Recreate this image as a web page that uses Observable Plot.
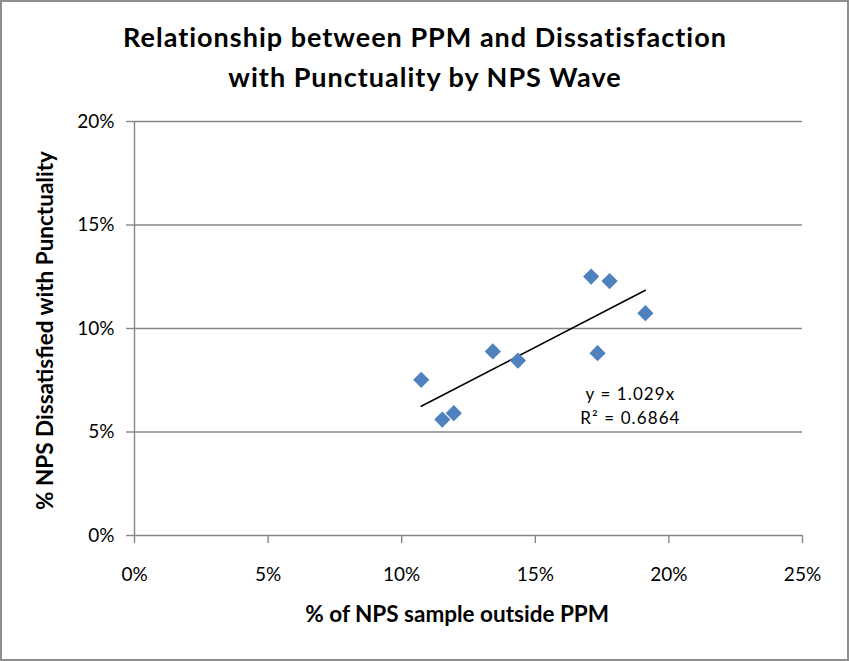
<!DOCTYPE html>
<html>
<head>
<meta charset="utf-8">
<script src="https://cdn.jsdelivr.net/npm/d3@7"></script>
<script src="https://cdn.jsdelivr.net/npm/@observablehq/plot@0.6"></script>
<style>
  html, body { margin: 0; padding: 0; background: #fff; }
  #wrap { position: relative; width: 849px; height: 661px; overflow: hidden; }
  #frame { position: absolute; left: 0; top: 0; width: 849px; height: 661px; box-sizing: border-box; border: 2px solid #8e8e8e; pointer-events: none; }
</style>
</head>
<body>
<div id="wrap"><div id="frame"></div></div>
<script>
// ---- data ----
const ppmOutside   = [0.1073, 0.1152, 0.1195, 0.1341, 0.1435, 0.1709, 0.1778, 0.1733, 0.1912];
const dissatisfied = [0.0752, 0.0560, 0.0591, 0.0889, 0.0845, 0.1251, 0.1229, 0.0881, 0.1074];
const xTicks = [0, 0.05, 0.10, 0.15, 0.20, 0.25];
const yTicks = [0, 0.05, 0.10, 0.15, 0.20];
const titleLines = ["Relationship between PPM and Dissatisfaction", "with Punctuality by NPS Wave"];
const xLabel = "% of NPS sample outside PPM";
const yLabel = "% NPS Dissatisfied with Punctuality";
const equationLines = ["y = 1.029x", "R² = 0.6864"];
const equationAt = {x: 0.1856, y: 0.0540};

const waves = ppmOutside.map((x, i) => ({x, y: dissatisfied[i]}));
const gray = "#878787";
const pct = d3.format(".0%");

const chart = Plot.plot({
  width: 849,
  height: 661,
  marginLeft: 134,
  marginRight: 47,
  marginTop: 121,
  marginBottom: 126,
  style: {background: "transparent", fontFamily: "Lato", overflow: "visible"},
  x: {domain: [0, 0.25]},
  y: {domain: [0, 0.20]},
  marks: [
    Plot.gridY(yTicks, {stroke: gray, strokeOpacity: 1, strokeWidth: 1.4}),
    Plot.ruleX([0], {stroke: gray, strokeWidth: 1.4}),
    Plot.axisX({ticks: xTicks, tickFormat: pct, tickSize: 8, tickPadding: 24, stroke: gray, strokeWidth: 1.4, fill: "#000", fontSize: 19, fontFamily: "Lato", label: null}),
    Plot.axisY({ticks: yTicks, tickFormat: pct, tickSize: 8, tickPadding: 12, stroke: gray, strokeWidth: 1.4, fill: "#000", fontSize: 19, fontFamily: "Lato", label: null}),
    Plot.linearRegressionY(waves, {x: "x", y: "y", stroke: "#000", strokeWidth: 1.5, ci: 0}),
    Plot.dot(waves, {x: "x", y: "y", symbol: "diamond2", r: 7.3, fill: "#4F81BD", stroke: "none"}),
    Plot.text([equationLines.join("\n")], {x: () => equationAt.x, y: () => equationAt.y, text: d => d, textAnchor: "middle", lineAnchor: "bottom", lineHeight: 24 / 17, fontSize: 17, fontFamily: "Lato", fill: "#000"}),
    Plot.text([titleLines.join("\n")], {frameAnchor: "top", dx: -43.5, dy: -34.3, text: d => d, textAnchor: "middle", lineAnchor: "bottom", lineHeight: 40 / 27, fontSize: 27, fontWeight: "bold", fontFamily: "Lato", fill: "#000"}),
    Plot.text([xLabel], {frameAnchor: "bottom", dx: -11.3, dy: 86.7, text: d => d, textAnchor: "middle", lineAnchor: "bottom", fontSize: 22.5, fontWeight: "bold", fontFamily: "Lato", fill: "#000"}),
    Plot.text([yLabel], {frameAnchor: "left", dx: -81.5, dy: 2, rotate: -90, text: d => d, textAnchor: "middle", lineAnchor: "bottom", fontSize: 22.5, fontWeight: "bold", fontFamily: "Lato", fill: "#000"})
  ]
});
// letter spacing to mimic the narrower-but-wider-set reference typeface
chart.querySelectorAll("text").forEach(t => {
  const s = t.textContent;
  if (s.startsWith("Relationship")) t.style.letterSpacing = "1px";
  else if (s.startsWith("y = ")) t.style.letterSpacing = "1.1px";
});
document.getElementById("wrap").prepend(chart);
</script>
</body>
</html>
